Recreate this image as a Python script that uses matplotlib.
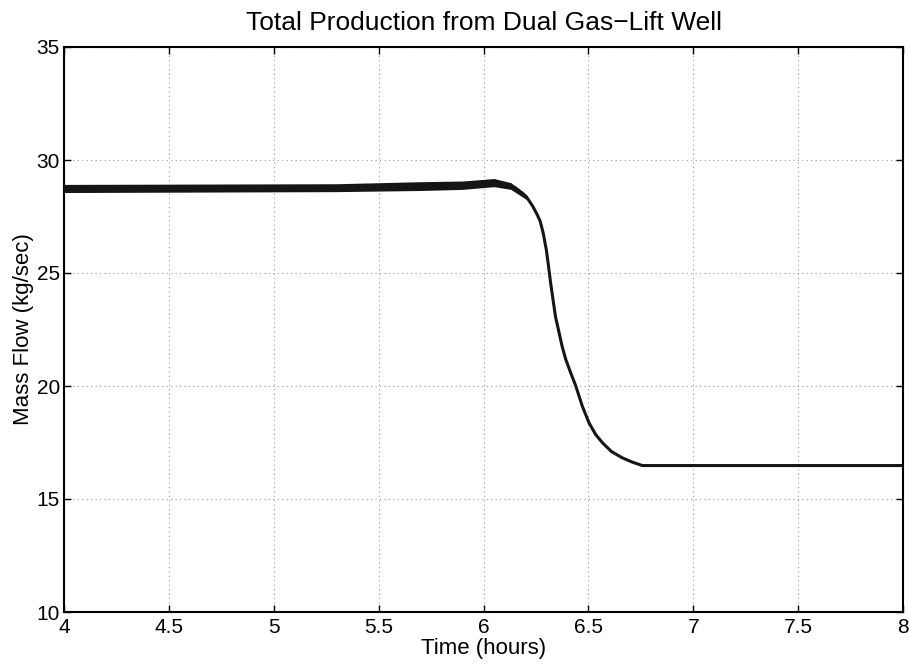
import matplotlib
matplotlib.use('Agg')
from matplotlib import pyplot as plt

# center line of total production (hours, kg/sec)
time_h = [4.0, 5.0, 5.3, 5.7, 5.9, 6.0, 6.05, 6.1, 6.15, 6.19, 6.21, 6.235,
          6.255, 6.27, 6.285, 6.30, 6.31, 6.32, 6.343, 6.375, 6.392, 6.415,
          6.44, 6.471, 6.503, 6.535, 6.567, 6.61, 6.662, 6.71, 6.757, 8.0]
flow = [28.74, 28.75, 28.77, 28.85, 28.89, 28.97, 29.0, 28.93, 28.78, 28.5,
        28.3, 27.95, 27.6, 27.3, 26.75, 26.0, 25.3, 24.56, 23.08, 21.75, 21.18,
        20.6, 20.0, 19.11, 18.37, 17.85, 17.49, 17.1, 16.82, 16.63, 16.48, 16.48]

# envelope of the fast oscillation before the drop
band_t = [4.0, 5.3, 5.7, 5.9, 6.05, 6.13, 6.21]
band_hi = [28.92, 28.95, 29.04, 29.07, 29.18, 29.0, 28.42]
band_lo = [28.56, 28.6, 28.65, 28.7, 28.82, 28.7, 28.22]

xticks = [4, 4.5, 5, 5.5, 6, 6.5, 7, 7.5, 8]
xticklabels = ['4', '4.5', '5', '5.5', '6', '6.5', '7', '7.5', '8']
yticks = [10, 15, 20, 25, 30, 35]

plt.rcParams['font.family'] = ['Liberation Sans', 'DejaVu Sans']

fig = plt.figure(figsize=(9.09, 6.64), dpi=100)
ax = fig.add_axes([64/909, 1-612/664, (903-64)/909, (612-47)/664])

ax.fill_between(band_t, band_lo, band_hi, color='#151515', lw=0, zorder=3)
ax.plot(time_h, flow, color='#151515', lw=2.2, zorder=4)

ax.set_xlim(4, 8)
ax.set_ylim(10, 35)
ax.set_xticks(xticks)
ax.set_xticklabels(xticklabels)
ax.set_yticks(yticks)
ax.grid(True, color='#999999', linestyle=(0, (1, 3)), lw=0.8)
ax.tick_params(direction='in', length=5, width=1, top=True, right=True,
               labelsize=15, pad=3)
ax.tick_params(axis='x', pad=4)
for s in ax.spines.values():
    s.set_linewidth(1.5)

ax.set_title('Total Production from Dual Gas\u2212Lift Well', fontsize=19, pad=12)
ax.set_xlabel('Time (hours)', fontsize=16, labelpad=1)
ax.set_ylabel('Mass Flow (kg/sec)', fontsize=16, labelpad=2)

fig.savefig('out.png', dpi=100)
